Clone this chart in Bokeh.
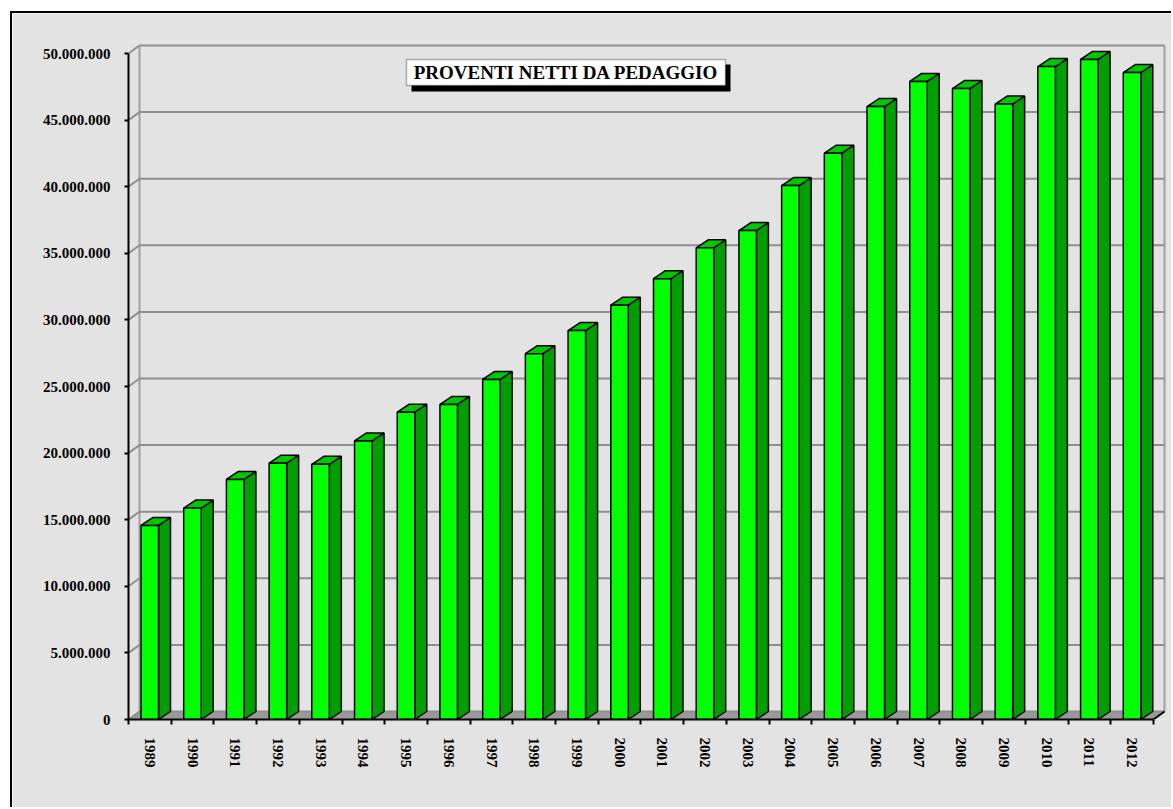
from bokeh.plotting import figure
from bokeh.models import FixedTicker, BoxAnnotation, Label, Range1d, CustomJSTickFormatter
from bokeh.embed import file_html
from bokeh.resources import INLINE

# ---------------- data ----------------
years = ["1989", "1990", "1991", "1992", "1993", "1994", "1995", "1996",
         "1997", "1998", "1999", "2000", "2001", "2002", "2003", "2004",
         "2005", "2006", "2007", "2008", "2009", "2010", "2011", "2012"]
proventi = [14570000, 15870000, 18020000, 19240000, 19160000, 20910000,
            23070000, 23650000, 25530000, 27460000, 29200000, 31100000,
            33090000, 35410000, 36710000, 40090000, 42520000, 46020000,
            47900000, 47370000, 46200000, 49020000, 49550000, 48570000]
y_ticks = [0, 5000000, 10000000, 15000000, 20000000, 25000000,
           30000000, 35000000, 40000000, 45000000, 50000000]
y_tick_labels = ["0", "5.000.000", "10.000.000", "15.000.000", "20.000.000",
                 "25.000.000", "30.000.000", "35.000.000", "40.000.000",
                 "45.000.000", "50.000.000"]
title_text = "PROVENTI NETTI DA PEDAGGIO"

# ---------------- geometry ----------------
OX, OY = 12, 13                 # canvas origin on page (after css margin + border)
W, H = 1173 - OX, 809 - OY
ML = 128 - OX
MB = H - (719 - OY)
MT = 41 - OY
px_per_cat = 42.708
px_per_val = 66.6 / 5000000
n = len(years)
frame_w = n * px_per_cat + 15
MR = W - ML - int(round(frame_w))
frame_w = W - ML - MR
frame_h = H - MT - MB
ux = 1.0 / px_per_cat
uy = 1.0 / px_per_val
ymax = y_ticks[-1]

wall_dx, wall_dy = 11 * ux, 8 * uy
bar_dx, bar_dy = 12 * ux, 8 * uy
bar_off, bar_w = 12.5 * ux, 17.5 * ux

FONT = "Liberation Serif"
BG = "#E3E3E3"

p = figure(width=W, height=H, output_backend="svg", toolbar_location=None,
           x_range=Range1d(0, frame_w * ux), y_range=Range1d(0, frame_h * uy),
           min_border_left=ML, min_border_right=MR, min_border_top=MT,
           min_border_bottom=MB)
p.styles = {"margin-left": "10px", "margin-top": "11px",
            "border-left": "2px solid black", "border-top": "2px solid black"}
p.background_fill_color = BG
p.border_fill_color = BG
p.outline_line_color = None
p.xgrid.visible = False
p.ygrid.visible = False

# floor
p.patch([0, n, n + wall_dx, wall_dx], [0, 0, wall_dy, wall_dy],
        fill_color="#999999", line_color=None)
# back wall edges
p.multi_line([[wall_dx, wall_dx], [n + wall_dx, n + wall_dx]],
             [[wall_dy, ymax + wall_dy], [wall_dy, ymax + wall_dy]],
             line_color="#A0A0A0", line_width=2)
# gridlines (left wall diagonal + back wall horizontal)
gx = [[0, wall_dx, n + wall_dx] for v in y_ticks]
gy = [[v, v + wall_dy, v + wall_dy] for v in y_ticks]
p.multi_line(gx, gy, line_color="#8F8F8F", line_width=2)
# right floor edge
p.line([n, n + wall_dx], [0, wall_dy], line_color="black", line_width=2)

# bars
lefts = [i + bar_off for i in range(n)]
rights = [l + bar_w for l in lefts]
side_xs = [[r, r + bar_dx, r + bar_dx, r] for r in rights]
side_ys = [[0, bar_dy, v + bar_dy, v] for v in proventi]
top_xs = [[l, r, r + bar_dx, l + bar_dx] for l, r in zip(lefts, rights)]
top_ys = [[v, v, v + bar_dy, v + bar_dy] for v in proventi]
p.patches(side_xs, side_ys, fill_color="#009E00", line_color="black", line_width=1.5)
p.patches(top_xs, top_ys, fill_color="#00C800", line_color="black", line_width=1.5)
p.quad(left=lefts, right=rights, bottom=0, top=proventi,
       fill_color="#00FF00", line_color="black", line_width=1.5)

# y axis
ya = p.yaxis[0]
ya.ticker = FixedTicker(ticks=y_ticks)
ya.major_label_overrides = {v: s for v, s in zip(y_ticks, y_tick_labels)}
ya.bounds = (0, ymax)
ya.axis_line_color = "black"
ya.axis_line_width = 2
ya.major_tick_out = 4
ya.major_tick_in = 0
ya.major_tick_line_width = 2
ya.minor_tick_line_color = None
ya.major_label_standoff = 14
ya.major_label_text_font = FONT
ya.major_label_text_font_style = "bold"
ya.major_label_text_font_size = "15px"
ya.major_label_text_color = "black"

# x axis
xa = p.xaxis[0]
centers = [i + 0.5 for i in range(n)]
xa.ticker = FixedTicker(ticks=centers, minor_ticks=list(range(n + 1)))
xa.formatter = CustomJSTickFormatter(args=dict(labels=years),
                                     code="const k = Math.round(tick - 0.5); return (k >= 0 && k < labels.length) ? labels[k] : '';")
xa.bounds = (0, n)
xa.axis_line_color = "black"
xa.axis_line_width = 2
xa.major_tick_line_color = None
xa.major_tick_out = 5
xa.major_tick_in = 0
xa.minor_tick_line_color = "black"
xa.minor_tick_line_width = 2
xa.minor_tick_out = 5
xa.minor_tick_in = 0
xa.major_label_orientation = "vertical"
xa.major_label_standoff = 13
xa.major_label_text_font = FONT
xa.major_label_text_font_style = "bold"
xa.major_label_text_font_size = "15px"
xa.major_label_text_color = "black"

# title box with shadow (page coords converted to canvas coords)
def cx(v):
    return v - OX

def cy(v):
    return v - OY

p.add_layout(BoxAnnotation(left=cx(409), right=cx(728), top=cy(62), bottom=cy(89),
                           left_units="canvas", right_units="canvas",
                           top_units="canvas", bottom_units="canvas",
                           fill_color="black", fill_alpha=1.0, line_color=None))
p.add_layout(BoxAnnotation(left=cx(404), right=cx(723), top=cy(57), bottom=cy(83),
                           left_units="canvas", right_units="canvas",
                           top_units="canvas", bottom_units="canvas",
                           fill_color="white", fill_alpha=1.0,
                           line_color="black", line_width=1.5))
p.add_layout(Label(x=cx(563.5), y=cy(70), x_units="canvas", y_units="canvas",
                   text=title_text, text_align="center", text_baseline="middle",
                   text_font=FONT, text_font_style="bold",
                   text_font_size="19px", text_color="black"))

open("out.html", "w").write(file_html(p, INLINE))
